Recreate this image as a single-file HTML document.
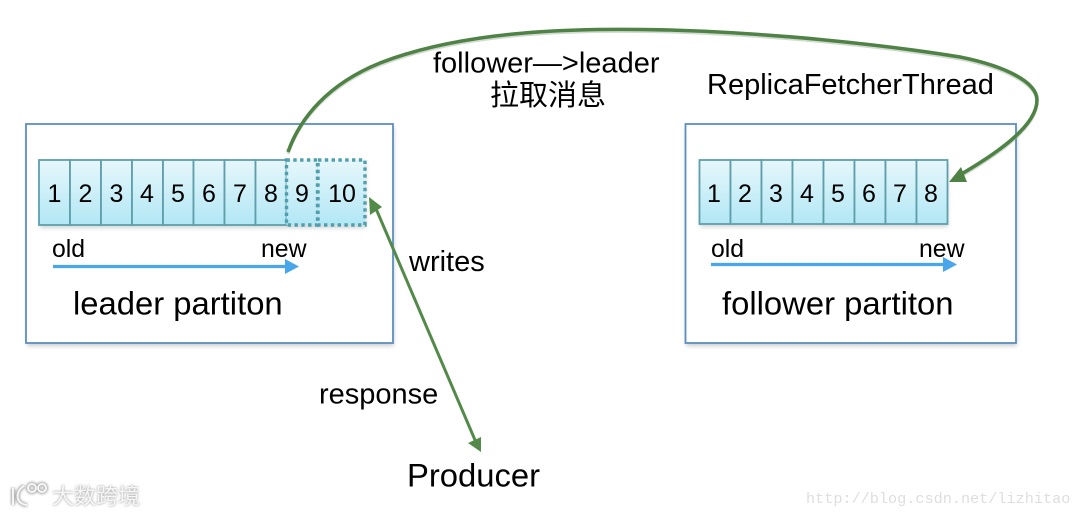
<!DOCTYPE html>
<html>
<head>
<meta charset="utf-8">
<style>
html,body{margin:0;padding:0;background:#fff;width:1080px;height:515px;overflow:hidden}
svg{display:block}
text{font-family:"Liberation Sans","Noto Sans CJK SC",sans-serif;fill:#000}
.d{font-size:25px;text-anchor:middle}
.s{font-size:24.8px}
.l{font-size:32.8px}
.m{font-size:29px}
.cell{fill:url(#g);stroke:#5f9fab;stroke-width:1.8}
.dot{fill:url(#g);stroke:#4f9fae;stroke-width:3.4;stroke-dasharray:3.4 3.4}
.box{fill:#fff;stroke:#5b8fbf;stroke-width:1.8}
</style>
</head>
<body>
<svg width="1080" height="515" viewBox="0 0 1080 515" xmlns="http://www.w3.org/2000/svg">
<defs>
<linearGradient id="g" x1="0" y1="0" x2="0" y2="1">
<stop offset="0" stop-color="#e6f7fb"/>
<stop offset="1" stop-color="#b2e7f5"/>
</linearGradient>
<filter id="sh" x="-5%" y="-5%" width="110%" height="115%">
<feGaussianBlur stdDeviation="2"/>
</filter>
<filter id="b" x="-2%" y="-2%" width="104%" height="104%">
<feGaussianBlur stdDeviation="0.3"/>
</filter>
<filter id="glow" x="-10%" y="-30%" width="120%" height="160%">
<feGaussianBlur stdDeviation="1.2"/>
</filter>
</defs>
<rect width="1080" height="515" fill="#fff"/>
<g filter="url(#b)">
<!-- shadows -->
<rect x="27" y="127" width="367" height="219" fill="#9a9a9a" opacity=".5" filter="url(#sh)"/>
<rect x="686" y="127" width="331" height="219" fill="#9a9a9a" opacity=".5" filter="url(#sh)"/>
<rect class="box" x="26" y="124" width="367" height="219"/>
<rect class="box" x="685.500" y="124" width="330.500" height="219"/>
<rect x="40" y="162" width="326" height="66" fill="#8a9a9e" opacity=".4" filter="url(#sh)"/>
<rect x="700" y="162" width="248" height="65" fill="#8a9a9e" opacity=".4" filter="url(#sh)"/>

<!-- leader cells -->
<rect class="cell" x="39" y="160" width="31" height="65"/>
<rect class="cell" x="70" y="160" width="31" height="65"/>
<rect class="cell" x="101" y="160" width="31" height="65"/>
<rect class="cell" x="132" y="160" width="31" height="65"/>
<rect class="cell" x="163" y="160" width="30.500" height="65"/>
<rect class="cell" x="193.500" y="160" width="31" height="65"/>
<rect class="cell" x="224.500" y="160" width="31" height="65"/>
<rect class="cell" x="255.500" y="160" width="31" height="65"/>
<rect class="dot" x="286.500" y="160" width="31" height="65"/>
<rect class="dot" x="318" y="160" width="47" height="65"/>

<text class="d" x="54.500" y="202">1</text>
<text class="d" x="85.500" y="202">2</text>
<text class="d" x="116.500" y="202">3</text>
<text class="d" x="147" y="202">4</text>
<text class="d" x="178" y="202">5</text>
<text class="d" x="209" y="202">6</text>
<text class="d" x="240" y="202">7</text>
<text class="d" x="271" y="202">8</text>
<text class="d" x="302" y="202">9</text>
<text class="d" x="342" y="202">10</text>

<text class="s" x="52" y="257">old</text>
<text class="s" x="261" y="257">new</text>
<path d="M53 266.500H287" stroke="#4aa6ea" stroke-width="3.200" fill="none"/>
<path d="M285 259L299 266.500L285 274Z" fill="#4aa6ea"/>
<text class="l" x="73" y="314.500">leader partiton</text>

<!-- follower cells -->
<rect class="cell" x="699.500" y="160" width="31" height="64"/>
<rect class="cell" x="730.500" y="160" width="31" height="64"/>
<rect class="cell" x="761.500" y="160" width="31" height="64"/>
<rect class="cell" x="792.500" y="160" width="31" height="64"/>
<rect class="cell" x="823.500" y="160" width="31" height="64"/>
<rect class="cell" x="854.500" y="160" width="31" height="64"/>
<rect class="cell" x="885.500" y="160" width="31" height="64"/>
<rect class="cell" x="916.500" y="160" width="31" height="64"/>

<text class="d" x="714" y="202">1</text>
<text class="d" x="745" y="202">2</text>
<text class="d" x="776" y="202">3</text>
<text class="d" x="807" y="202">4</text>
<text class="d" x="838" y="202">5</text>
<text class="d" x="869" y="202">6</text>
<text class="d" x="900" y="202">7</text>
<text class="d" x="931" y="202">8</text>

<text class="s" x="711" y="257">old</text>
<text class="s" x="919" y="257">new</text>
<path d="M711 264.500H946" stroke="#4aa6ea" stroke-width="3.200" fill="none"/>
<path d="M943 257L957 264.500L943 272Z" fill="#4aa6ea"/>
<text class="l" x="722" y="314.500">follower partiton</text>

<!-- big curve -->
<path d="M288 152C300 118 328 84 380 63C470 28 590 28 670 30C770 33 880 44 960 57C1005 66 1037 82 1037 100C1037 124 1003 150 958 176" fill="none" stroke="#a8b5a5" stroke-width="3" opacity=".5" transform="translate(0,2)"/>
<path d="M288 152C300 118 328 84 380 63C470 28 590 28 670 30C770 33 880 44 960 57C1005 66 1037 82 1037 100C1037 124 1003 150 958 176" fill="none" stroke="#4f8245" stroke-width="3.600"/>
<path d="M949 182L961 167L967 182Z" fill="#4f8245"/>

<!-- writes / response arrow -->
<path d="M374 204L475 440" fill="none" stroke="#538a4a" stroke-width="3"/>
<path d="M369 197L382 207L370 215Z" fill="#538a4a"/>
<path d="M481 452L468 443L481 437Z" fill="#538a4a"/>

<!-- labels -->
<text class="m" x="433" y="72.500">follower—&gt;leader</text>
<text class="m" x="490" y="105">拉取消息</text>
<text class="m" x="707" y="94">ReplicaFetcherThread</text>
<text class="m" x="409" y="271">writes</text>
<text class="m" x="319" y="403.500">response</text>
<text class="l" x="407" y="486.500">Producer</text>
</g>

<!-- watermarks -->
<g>
<text x="52" y="504" font-size="22" style="fill:#8f8f8f;font-family:'Noto Sans CJK SC',sans-serif" filter="url(#glow)">大数跨境</text>
<text x="52" y="504" font-size="22" style="fill:#f6f6f6;font-family:'Noto Sans CJK SC',sans-serif">大数跨境</text>
<g fill="none" stroke="#a5a5a5" stroke-width="4" filter="url(#glow)">
<path d="M13 488V505M24 486C15 491 15 504 27 505"/>
<circle cx="32" cy="488" r="4"/>
<circle cx="42" cy="488" r="4"/>
</g>
<g fill="none" stroke="#f6f6f6" stroke-width="2">
<path d="M13 488V505M24 486C15 491 15 504 27 505"/>
<circle cx="32" cy="488" r="4"/>
<circle cx="42" cy="488" r="4"/>
</g>
</g>
<text x="806" y="503" font-size="15.200" style="font-family:'Liberation Mono',monospace;fill:#dedede">http://blog.csdn.net/lizhitao</text>
</svg>
</body>
</html>
